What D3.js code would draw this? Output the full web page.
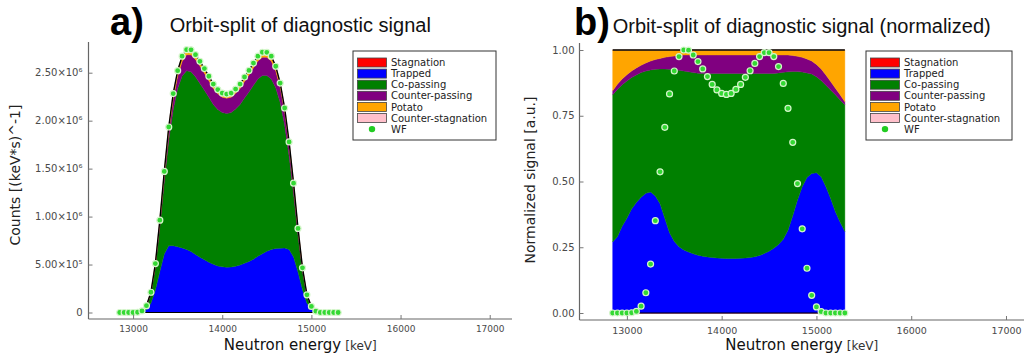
<!DOCTYPE html>
<html>
<head>
<meta charset="utf-8">
<script src="https://cdn.jsdelivr.net/npm/d3@7"></script>
<style>
  body { margin: 0; background: #fff; }
  svg { font-family: "DejaVu Sans", sans-serif; }
</style>
</head>
<body>
<svg id="fig" width="1024" height="359"></svg>
<script>
// Neutron energy bins [keV]
const energies = [
  12850, 12900, 12950, 13000, 13050, 13100, 13150, 13200, 13250, 13300,
  13350, 13400, 13450, 13500, 13550, 13600, 13650, 13700, 13750, 13800,
  13850, 13900, 13950, 14000, 14050, 14100, 14150, 14200, 14250, 14300,
  14350, 14400, 14450, 14500, 14550, 14600, 14650, 14700, 14750, 14800,
  14850, 14900, 14950, 15000, 15050, 15100, 15150, 15200, 15250, 15300
];

// Total weight-function signal, counts per (keV*s)
const wfCounts = [
  0, 0, 0, 0, 2700, 16000, 71000, 211000, 510000, 962000,
  1471000, 1934000, 2282000, 2521000, 2672000, 2740000, 2738000, 2688000, 2619000, 2543000,
  2463000, 2381000, 2324000, 2288000, 2277000, 2288000, 2329000, 2381000, 2455000, 2524000,
  2600000, 2672000, 2713000, 2712000, 2672000, 2567000, 2392000, 2132000, 1778000, 1348000,
  877000, 466000, 184000, 63000, 14000, 0, 0, 0, 0, 0
];

// Share of the signal carried by each orbit class in every energy bin
const fracStagnation = [
  0, 0, 0, 0, 0, 0, 0, 0, 0, 0,
  0, 0, 0, 0, 0, 0, 0, 0, 0, 0,
  0, 0, 0, 0, 0, 0, 0, 0, 0, 0,
  0, 0, 0, 0, 0, 0, 0, 0, 0, 0,
  0, 0, 0, 0, 0, 0, 0, 0, 0, 0
];
const fracTrapped = [
  0.270, 0.290, 0.330, 0.360, 0.395, 0.420, 0.440, 0.455, 0.460, 0.445,
  0.415, 0.360, 0.305, 0.272, 0.252, 0.240, 0.232, 0.225, 0.220, 0.216,
  0.213, 0.211, 0.209, 0.208, 0.207, 0.207, 0.207, 0.208, 0.209, 0.211,
  0.214, 0.219, 0.226, 0.235, 0.246, 0.260, 0.280, 0.315, 0.370, 0.430,
  0.480, 0.515, 0.530, 0.533, 0.518, 0.480, 0.435, 0.385, 0.345, 0.310
];
const fracCoPassing = [
  0.560, 0.560, 0.538, 0.522, 0.500, 0.485, 0.474, 0.465, 0.464, 0.482,
  0.513, 0.568, 0.622, 0.654, 0.671, 0.680, 0.685, 0.689, 0.692, 0.695,
  0.698, 0.700, 0.702, 0.703, 0.704, 0.704, 0.704, 0.703, 0.702, 0.700,
  0.697, 0.692, 0.685, 0.676, 0.665, 0.653, 0.635, 0.602, 0.548, 0.488,
  0.436, 0.398, 0.379, 0.365, 0.366, 0.386, 0.413, 0.445, 0.465, 0.482
];
const fracCounterPassing = [
  0.015, 0.020, 0.022, 0.024, 0.025, 0.027, 0.028, 0.031, 0.034, 0.037,
  0.040, 0.044, 0.048, 0.051, 0.056, 0.061, 0.064, 0.067, 0.069, 0.070,
  0.070, 0.070, 0.070, 0.070, 0.070, 0.070, 0.070, 0.070, 0.070, 0.070,
  0.070, 0.070, 0.070, 0.070, 0.070, 0.068, 0.066, 0.064, 0.061, 0.058,
  0.056, 0.053, 0.049, 0.047, 0.044, 0.039, 0.032, 0.025, 0.020, 0.011
];
const fracPotato = [
  0.155, 0.130, 0.110, 0.094, 0.080, 0.068, 0.058, 0.049, 0.042, 0.036,
  0.032, 0.028, 0.025, 0.023, 0.021, 0.019, 0.019, 0.019, 0.019, 0.019,
  0.019, 0.019, 0.019, 0.019, 0.019, 0.019, 0.019, 0.019, 0.019, 0.019,
  0.019, 0.019, 0.019, 0.019, 0.019, 0.019, 0.019, 0.019, 0.021, 0.024,
  0.028, 0.034, 0.042, 0.055, 0.072, 0.095, 0.120, 0.145, 0.170, 0.197
];
const fracCounterStagnation = [
  0, 0, 0, 0, 0, 0, 0, 0, 0, 0,
  0, 0, 0, 0, 0, 0, 0, 0, 0, 0,
  0, 0, 0, 0, 0, 0, 0, 0, 0, 0,
  0, 0, 0, 0, 0, 0, 0, 0, 0, 0,
  0, 0, 0, 0, 0, 0, 0, 0, 0, 0
];

const orbitClasses = ["Stagnation", "Trapped", "Co-passing", "Counter-passing", "Potato", "Counter-stagnation"];
const classFractions = [fracStagnation, fracTrapped, fracCoPassing, fracCounterPassing, fracPotato, fracCounterStagnation];

// Axis ticks
const energyTicks = [13000, 14000, 15000, 16000, 17000];
const countTicks = [0, 500000, 1000000, 1500000, 2000000, 2500000];
const countTickLabels = ["0", "5.00×10⁵", "1.00×10⁶", "1.50×10⁶", "2.00×10⁶", "2.50×10⁶"];
const normTicks = [0, 0.25, 0.5, 0.75, 1.0];
const normTickLabels = ["0.00", "0.25", "0.50", "0.75", "1.00"];

// ---- styling ----
const classColors = {
  "Stagnation": "#ff0000",
  "Trapped": "#0000ff",
  "Co-passing": "#008000",
  "Counter-passing": "#800080",
  "Potato": "#ffa500",
  "Counter-stagnation": "#ffc0cb"
};
const wfFill = "#33d933";
const wfStroke = "#d6f5cc";
const titleFont = '"Liberation Sans", Arial, sans-serif';

const svg = d3.select("#fig");

// rows for the normalized and absolute stacks
const fracRows = energies.map((e, i) => {
  const r = { energy: e };
  orbitClasses.forEach((k, j) => { r[k] = classFractions[j][i]; });
  return r;
});
const countRows = energies.map((e, i) => {
  const r = { energy: e };
  orbitClasses.forEach((k, j) => { r[k] = classFractions[j][i] * wfCounts[i]; });
  return r;
});
const wfMax = d3.max(wfCounts);
const wfNorm = wfCounts.map(v => v / wfMax);

function drawPanel(cfg) {
  const g = svg.append("g");
  const x = d3.scaleLinear().domain([12500, cfg.xEnd]).range([cfg.left, cfg.right]);
  const y = d3.scaleLinear().domain(cfg.yDomain).range([cfg.bottom, cfg.top]);

  // stacked orbit-class areas
  const stacked = d3.stack().keys(orbitClasses)(cfg.rows);
  const area = d3.area()
    .x(d => x(d.data.energy))
    .y0(d => y(d[0]))
    .y1(d => y(d[1]));
  g.append("g").selectAll("path")
    .data(stacked)
    .join("path")
    .attr("d", area)
    .attr("fill", d => classColors[d.key])
    .attr("stroke", d => classColors[d.key])
    .attr("stroke-width", 0.4);

  // envelope of the stack
  const top = stacked[stacked.length - 1];
  g.append("path")
    .attr("d", d3.line().x(d => x(d.data.energy)).y(d => y(d[1]))(top))
    .attr("fill", "none").attr("stroke", "#000").attr("stroke-width", 1.4);
  g.append("path")
    .attr("d", d3.line().x(d => x(d.data.energy)).y(d => y(d[0]))(stacked[0]))
    .attr("fill", "none").attr("stroke", "#000").attr("stroke-width", 1.2);

  // WF points
  g.append("g").selectAll("circle")
    .data(cfg.wf)
    .join("circle")
    .attr("cx", (d, i) => x(energies[i]))
    .attr("cy", d => y(d))
    .attr("r", 3)
    .attr("fill", wfFill)
    .attr("stroke", wfStroke)
    .attr("stroke-width", 1.2);

  // axes
  const xAxis = d3.axisBottom(x).tickValues(energyTicks).tickFormat(d3.format("d"))
    .tickSizeInner(-4).tickSizeOuter(0).tickPadding(7);
  const gx = g.append("g").attr("transform", `translate(0,${cfg.axisY})`).call(xAxis);
  gx.selectAll("text").attr("font-size", cfg.xTickSize).attr("fill", "#4a4a4a")
    .style("font-family", '"DejaVu Sans"');

  const yAxis = d3.axisLeft(y).tickValues(cfg.yTicks).tickFormat((d, i) => cfg.yTickLabels[i])
    .tickSizeInner(-4).tickSizeOuter(0).tickPadding(cfg.yPad);
  const gy = g.append("g").attr("transform", `translate(${cfg.left},0)`).call(yAxis);
  gy.selectAll("text").attr("font-size", 10).attr("fill", "#4a4a4a")
    .style("font-family", '"DejaVu Sans"');

  [gx, gy].forEach(a => {
    a.select(".domain").attr("stroke", "#666").attr("stroke-width", 1.2);
    a.selectAll(".tick line").attr("stroke", "#777");
  });
  gy.select(".domain").attr("d", `M0,${cfg.axisY}V${cfg.axisTop}`);
  gx.select(".domain").attr("d", `M${cfg.left},0H${cfg.right}`);

  // axis labels
  const xl = g.append("text")
    .attr("x", (cfg.left + cfg.right) / 2).attr("y", 350)
    .attr("text-anchor", "middle").attr("fill", "#111");
  xl.append("tspan").attr("font-size", 15).text("Neutron energy");
  xl.append("tspan").attr("font-size", 12).attr("dx", 4).attr("fill", "#333").text("[keV]");

  g.append("text")
    .attr("transform", `translate(${cfg.yLabelX},${cfg.yLabelY}) rotate(-90)`)
    .attr("text-anchor", "middle").attr("font-size", 14).attr("fill", "#222")
    .text(cfg.yLabel);

  // title + panel letter
  g.append("text")
    .attr("x", (cfg.left + cfg.right) / 2).attr("y", cfg.titleY)
    .attr("text-anchor", "middle").attr("font-size", 20)
    .style("font-family", titleFont).attr("fill", "#111")
    .text(cfg.title);
  g.append("text")
    .attr("x", cfg.letterX).attr("y", 35)
    .attr("font-size", 38).attr("font-weight", "bold")
    .style("font-family", titleFont).attr("fill", "#000")
    .text(cfg.letter);

  // legend
  const lg = g.append("g").attr("transform", `translate(${cfg.legendX},51)`);
  lg.append("rect").attr("width", cfg.legendW).attr("height", 89)
    .attr("fill", "#fff").attr("stroke", "#333").attr("stroke-width", 1);
  const items = orbitClasses.concat(["WF"]);
  items.forEach((k, i) => {
    const cy = 11.5 + i * 11.1;
    if (k === "WF") {
      lg.append("circle").attr("cx", 19).attr("cy", cy).attr("r", 3.2).attr("fill", "#22cc22");
    } else {
      lg.append("rect").attr("x", 4.5).attr("y", cy - 4.5).attr("width", 29).attr("height", 9)
        .attr("fill", classColors[k]).attr("stroke", "#444").attr("stroke-width", 0.8);
    }
    lg.append("text").attr("x", 38).attr("y", cy + 3.6)
      .attr("font-size", 10).attr("fill", "#222").text(k);
  });
}

drawPanel({
  rows: countRows, wf: wfCounts,
  left: 88.5, right: 512, xEnd: 17250,
  yDomain: [0, 2500000], bottom: 312.5, top: 72.7,
  axisY: 319, axisTop: 42,
  yTicks: countTicks, yTickLabels: countTickLabels, yPad: 6, xTickSize: 9,
  yLabel: "Counts [(keV*s)^-1]", yLabelX: 20, yLabelY: 175,
  title: "Orbit-split of diagnostic signal", titleY: 32,
  letter: "a)", letterX: 110,
  legendX: 353, legendW: 143
});

drawPanel({
  rows: fracRows, wf: wfNorm,
  left: 579.5, right: 1024, xEnd: 17190,
  yDomain: [0, 1], bottom: 313, top: 50,
  axisY: 320, axisTop: 43,
  yTicks: normTicks, yTickLabels: normTickLabels, yPad: 5, xTickSize: 9.5,
  yLabel: "Normalized signal [a.u.]", yLabelX: 535, yLabelY: 180,
  title: "Orbit-split of diagnostic signal (normalized)", titleY: 33,
  letter: "b)", letterX: 574,
  legendX: 866, legendW: 146
});
</script>
</body>
</html>
